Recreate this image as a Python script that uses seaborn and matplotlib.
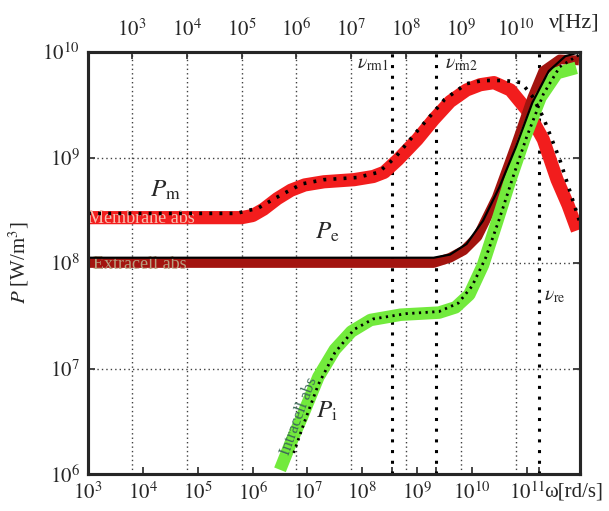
import numpy as np
import pandas as pd
import matplotlib
matplotlib.use('Agg')
import matplotlib.pyplot as plt
import seaborn as sns

# values, as log10(omega) and log10(P)
membrane_logw = [3.0, 4.1, 5.8, 6.0, 6.2, 6.45, 6.7, 6.95, 7.3, 7.85, 8.2, 8.4, 8.65, 9.0, 9.3, 9.6, 9.9, 10.15, 10.4, 10.7, 11.0, 11.3, 11.55, 11.75, 11.92]
membrane_logp = [8.43, 8.43, 8.43, 8.45, 8.51, 8.61, 8.69, 8.74, 8.77, 8.79, 8.82, 8.86, 8.98, 9.17, 9.36, 9.53, 9.64, 9.69, 9.71, 9.64, 9.45, 9.17, 8.79, 8.55, 8.31]

mem_model_logw = [3.0, 5.7, 6.1, 6.5, 6.9, 7.3, 7.9, 8.3, 8.6, 9.0, 9.5, 9.9, 10.2, 10.6, 10.9, 11.1, 11.3, 11.6, 11.97]
mem_model_logp = [8.47, 8.47, 8.52, 8.64, 8.75, 8.79, 8.81, 8.86, 9.0, 9.25, 9.55, 9.70, 9.73, 9.73, 9.71, 9.58, 9.38, 8.98, 8.38]

extra_logw = [3.0, 9.3, 9.6, 9.85, 10.1, 10.45, 10.8, 11.1, 11.3, 11.6, 11.95]
extra_logp = [8.0, 8.0, 8.05, 8.12, 8.25, 8.62, 9.12, 9.57, 9.82, 9.93, 9.92]

extra_model_logw = [3.0, 9.3, 9.6, 9.9, 10.2, 10.5, 10.8, 11.1, 11.4, 11.7, 11.97]
extra_model_logp = [8.05, 8.05, 8.08, 8.18, 8.4, 8.72, 9.1, 9.52, 9.82, 9.96, 10.0]

intra_logw = [6.5, 6.7, 6.9, 7.2, 7.5, 7.8, 8.15, 8.7, 9.4, 9.7, 9.95, 10.2, 10.45, 10.7, 10.95, 11.25, 11.55, 11.9]
intra_logp = [6.04, 6.3, 6.54, 6.92, 7.18, 7.35, 7.46, 7.51, 7.53, 7.58, 7.7, 7.98, 8.38, 8.79, 9.17, 9.57, 9.8, 9.85]

intra_model_logw = [6.75, 6.95, 7.2, 7.5, 7.85, 8.2, 8.8, 9.4, 9.75, 10.0, 10.25, 10.5, 10.75, 11.0, 11.3, 11.6, 11.97]
intra_model_logp = [6.2, 6.5, 6.85, 7.15, 7.37, 7.47, 7.52, 7.54, 7.62, 7.78, 8.05, 8.42, 8.82, 9.2, 9.6, 9.86, 9.98]

# characteristic frequencies (Hz)
nu_rm1 = 5.5e7
nu_rm2 = 3.5e8
nu_re = 2.6e10

bottom_ticks = [3, 4, 5, 6, 7, 8, 9, 10, 11]
top_ticks = [3, 4, 5, 6, 7, 8, 9, 10]
y_ticks = [6, 7, 8, 9, 10]

sns.set_style('white')
plt.rcParams['font.family'] = ['Liberation Serif', 'DejaVu Serif']
plt.rcParams['mathtext.fontset'] = 'stix'

def frame(logw, logp):
    return pd.DataFrame({'w': 10 ** np.array(logw), 'p': 10 ** np.array(logp)})

w_min, w_max = 1e3, 10 ** 11.97

fig = plt.figure(figsize=(6.09, 5.11), dpi=100)
ax = fig.add_axes([0.1445, 0.0724, 0.808, 0.8258])
ax.set_xscale('log')
ax.set_yscale('log')
ax.set_xlim(w_min, w_max)
ax.set_ylim(1e6, 1e10)

# dotted grid: vertical at nu decades, horizontal at P decades
for k in top_ticks:
    ax.axvline(2 * np.pi * 10 ** k, color='0.25', lw=1.0, ls=(0, (1, 2.2)), zorder=1)
for k in [7, 8, 9]:
    ax.axhline(10 ** k, color='0.25', lw=1.0, ls=(0, (1, 2.2)), zorder=1)
special_w = [2 * np.pi * nu for nu in [nu_rm1, nu_rm2, nu_re]]
for w in special_w:
    ax.axvline(w, color='black', lw=2.2, ls=(0, (1, 2.5)), zorder=1)

# measured bands
sns.lineplot(data=frame(membrane_logw, membrane_logp), x='w', y='p', ax=ax,
             color='#f21d1d', lw=9.5, solid_capstyle='butt', zorder=2)
sns.lineplot(data=frame(extra_logw, extra_logp), x='w', y='p', ax=ax,
             color='#a3140f', lw=7, solid_capstyle='butt', zorder=2)
sns.lineplot(data=frame(intra_logw, intra_logp), x='w', y='p', ax=ax,
             color='#72ea3c', lw=9, solid_capstyle='butt', zorder=2)

# model curves
sns.lineplot(data=frame(extra_model_logw, extra_model_logp), x='w', y='p', ax=ax,
             color='black', lw=1.6, zorder=4)
sns.lineplot(data=frame(mem_model_logw, mem_model_logp), x='w', y='p', ax=ax,
             color='black', lw=2.6, ls=(0, (0.8, 2.0)), zorder=4)
sns.lineplot(data=frame(intra_model_logw, intra_model_logp), x='w', y='p', ax=ax,
             color='black', lw=2.0, ls=(0, (0.8, 1.6)), zorder=4)

# band labels
ax.text(10 ** 3.0, 10 ** 8.42, 'Membrane abs', fontsize=13, color='#f6c0b0',
        ha='left', va='center', zorder=3)
ax.text(10 ** 3.1, 10 ** 7.99, 'Extracell abs', fontsize=13, color='#b8a080',
        ha='left', va='center', zorder=3)
ax.text(10 ** 6.85, 10 ** 6.55, 'Intracell abs', fontsize=12, color='#3d6a58',
        rotation=70, ha='center', va='center', zorder=3)

# curve names
ax.text(10 ** 4.42, 10 ** 8.69, r'$P_{\rm m}$', fontsize=18, ha='center', va='center')
ax.text(10 ** 7.36, 10 ** 8.29, r'$P_{\rm e}$', fontsize=18, ha='center', va='center')
ax.text(10 ** 7.36, 10 ** 6.59, r'$P_{\rm i}$', fontsize=18, ha='center', va='center')
ax.text(10 ** 8.2, 10 ** 9.88, r'$\nu_{\rm rm1}$', fontsize=14, ha='center', va='center')
ax.text(10 ** 9.8, 10 ** 9.88, r'$\nu_{\rm rm2}$', fontsize=14, ha='center', va='center')
ax.text(10 ** 11.5, 10 ** 7.68, r'$\nu_{\rm re}$', fontsize=14, ha='center', va='center')

# axes
ax.set_xticks([10.0 ** k for k in bottom_ticks])
ax.set_xticklabels([r'$10^{%d}$' % k for k in bottom_ticks], fontsize=15)
ax.set_xticks(special_w, minor=True)
ax.set_yticks([10.0 ** k for k in y_ticks])
ax.set_yticklabels([r'$10^{%d}$' % k for k in y_ticks], fontsize=15)
ax.yaxis.set_minor_locator(matplotlib.ticker.NullLocator())
ax.tick_params(axis='x', which='both', direction='in', length=5, width=1.2, pad=6, bottom=True, top=False)
ax.tick_params(axis='y', direction='in', length=5, width=1.2, left=True, right=True, pad=6)
ax.set_xlabel('')
ax.set_ylabel('$P$ [W/m$^3$]', fontsize=15, labelpad=8)
for s in ax.spines.values():
    s.set_linewidth(2.2)
    s.set_color('black')

# top axis in frequency nu = omega / 2pi
ax2 = ax.twiny()
ax2.set_xscale('log')
ax2.set_xlim(w_min / (2 * np.pi), w_max / (2 * np.pi))
ax2.set_xticks([10.0 ** k for k in top_ticks])
ax2.set_xticklabels([r'$10^{%d}$' % k for k in top_ticks], fontsize=15)
ax2.xaxis.set_minor_locator(matplotlib.ticker.NullLocator())
ax2.tick_params(axis='x', direction='in', length=5, width=1.2, pad=8)
ax2.grid(False)
for s in ax2.spines.values():
    s.set_linewidth(2.2)

fig.text(0.985, 0.955, 'ν[Hz]', fontsize=16, ha='right', va='center')
fig.text(0.99, 0.037, 'ω[rd/s]', fontsize=15, ha='right', va='center')

fig.savefig('out.png', dpi=100)
